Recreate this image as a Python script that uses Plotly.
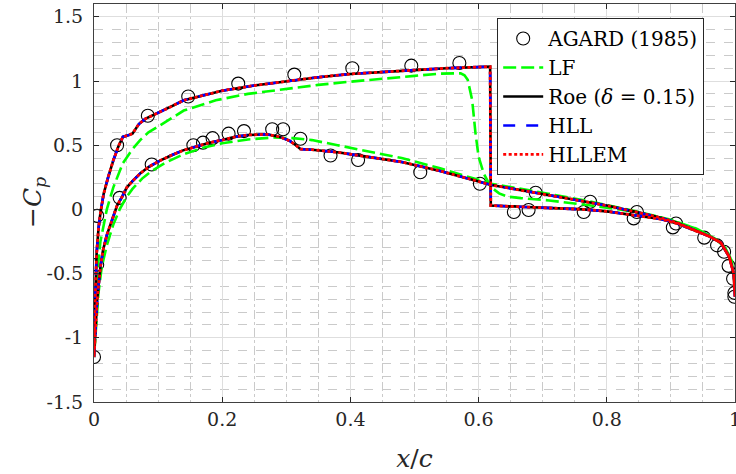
import plotly.graph_objects as go

# ---------------- data (x/c, -Cp) ----------------
exp_x = [0.0, 0.005, 0.036, 0.084, 0.147, 0.225, 0.3125, 0.403, 0.495, 0.57,
         0.655, 0.678, 0.764, 0.842, 0.903, 0.952, 0.972, 0.983, 0.99, 0.997, 0.999,
         0.005, 0.04, 0.09, 0.155, 0.17, 0.185, 0.21, 0.234, 0.278, 0.295, 0.322,
         0.369, 0.412, 0.509, 0.602, 0.689, 0.774, 0.847, 0.908, 0.999]
exp_cp = [-1.15, -0.05, 0.50, 0.73, 0.88, 0.98, 1.05, 1.10, 1.12, 1.14,
          -0.02, -0.005, -0.02, -0.07, -0.14, -0.22, -0.28, -0.33, -0.44, -0.54, -0.65,
          -0.43, 0.09, 0.35, 0.50, 0.52, 0.555, 0.59, 0.61, 0.625, 0.625, 0.55,
          0.42, 0.385, 0.29, 0.20, 0.13, 0.06, -0.02, -0.11, -0.68]

# Roe (delta = 0.15): upper surface (LE -> TE)
roe_up_x = [0.0, 0.001, 0.002, 0.004, 0.007, 0.01, 0.015, 0.022, 0.03, 0.038, 0.045,
            0.052, 0.06, 0.07, 0.08, 0.1, 0.12, 0.14, 0.17, 0.2, 0.25, 0.3, 0.35,
            0.4, 0.45, 0.5, 0.55, 0.6, 0.618, 0.619, 0.62, 0.65, 0.7, 0.764, 0.8,
            0.842, 0.884, 0.91, 0.936, 0.96, 0.978, 0.991, 0.998, 1.0]
roe_up_cp = [-1.15, -0.85, -0.6, -0.35, -0.15, -0.03, 0.12, 0.25, 0.38, 0.49, 0.565,
             0.575, 0.59, 0.665, 0.705, 0.75, 0.80, 0.85, 0.89, 0.925, 0.965, 1.0, 1.03,
             1.055, 1.07, 1.085, 1.10, 1.11, 1.112, 0.03, 0.028, 0.022, 0.015, 0.0, -0.015,
             -0.045, -0.075, -0.11, -0.16, -0.21, -0.26, -0.37, -0.5, -0.68]
# Roe: lower surface (LE -> TE)
roe_lo_x = [0.0, 0.002, 0.005, 0.01, 0.014, 0.02, 0.025, 0.03, 0.036, 0.044, 0.051,
            0.06, 0.072, 0.085, 0.103, 0.12, 0.139, 0.16, 0.18, 0.2, 0.22, 0.24, 0.27,
            0.29, 0.305, 0.315, 0.322, 0.34, 0.38, 0.42, 0.48, 0.54, 0.6, 0.62, 0.7,
            0.77, 0.8, 0.85, 0.884, 0.91, 0.936, 0.96, 0.978, 0.991, 0.998, 1.0]
roe_lo_cp = [-1.15, -0.95, -0.7, -0.45, -0.32, -0.2, -0.13, -0.06, 0.03, 0.1, 0.17,
             0.22, 0.28, 0.33, 0.38, 0.42, 0.46, 0.49, 0.52, 0.54, 0.565, 0.58, 0.585,
             0.565, 0.535, 0.5, 0.47, 0.465, 0.445, 0.415, 0.37, 0.30, 0.215, 0.19, 0.12,
             0.055, 0.03, -0.025, -0.065, -0.105, -0.16, -0.21, -0.26, -0.37, -0.5, -0.68]

# HLL and HLLEM practically coincide with Roe
hll_up_x, hll_up_cp, hll_lo_x, hll_lo_cp = roe_up_x, roe_up_cp, roe_lo_x, roe_lo_cp
hllem_up_x, hllem_up_cp, hllem_lo_x, hllem_lo_cp = roe_up_x, roe_up_cp, roe_lo_x, roe_lo_cp

# LF: upper surface
lf_up_x = [0.0, 0.002, 0.005, 0.01, 0.02, 0.03, 0.045, 0.06, 0.072, 0.085, 0.1, 0.14,
           0.19, 0.24, 0.3, 0.35, 0.4, 0.45, 0.5, 0.54, 0.572, 0.578, 0.583, 0.59,
           0.595, 0.6, 0.608, 0.619, 0.632, 0.645, 0.666, 0.71, 0.76, 0.82, 0.86, 0.9,
           0.94, 0.97, 0.985, 0.995, 1.0]
lf_up_cp = [-1.15, -0.8, -0.5, -0.25, 0.0, 0.17, 0.36, 0.47, 0.54, 0.6, 0.645, 0.77,
            0.85, 0.90, 0.94, 0.97, 0.995, 1.02, 1.04, 1.058, 1.06, 1.045, 1.01, 0.85,
            0.6, 0.41, 0.28, 0.175, 0.125, 0.1, 0.088, 0.07, 0.04, 0.0, -0.035, -0.085,
            -0.15, -0.23, -0.3, -0.4, -0.6]
# LF: lower surface
lf_lo_x = [0.0, 0.003, 0.007, 0.012, 0.02, 0.03, 0.04, 0.05, 0.06, 0.075, 0.09, 0.11,
           0.14, 0.17, 0.2, 0.24, 0.28, 0.31, 0.34, 0.38, 0.42, 0.48, 0.54, 0.6, 0.62,
           0.7, 0.77, 0.85, 0.9, 0.94, 0.97, 0.985, 0.995, 1.0]
lf_lo_cp = [-1.15, -0.9, -0.65, -0.45, -0.28, -0.12, 0.0, 0.09, 0.16, 0.24, 0.3, 0.36,
            0.43, 0.48, 0.515, 0.545, 0.56, 0.555, 0.54, 0.5, 0.46, 0.4, 0.32, 0.23, 0.2,
            0.13, 0.065, -0.02, -0.08, -0.15, -0.23, -0.3, -0.4, -0.6]

x_ticks = [0, 0.2, 0.4, 0.6, 0.8, 1]
x_tick_labels = ["0", "0.2", "0.4", "0.6", "0.8", "1"]
y_ticks = [-1.5, -1, -0.5, 0, 0.5, 1, 1.5]
y_tick_labels = ["-1.5", "-1", "-0.5", "0", "0.5", "1", "1.5"]


def loop(ux, uy, lx, ly):
    # TE -> upper -> LE -> lower -> TE
    return list(reversed(ux)) + list(lx), list(reversed(uy)) + list(ly)


FONT = "DejaVu Serif"
fig = go.Figure()

fig.add_trace(go.Scatter(x=exp_x, y=exp_cp, mode="markers", name="AGARD (1985)",
                         marker=dict(symbol="circle-open", size=13,
                                     color="black", line=dict(width=1.1, color="black"))))

x, y = loop(lf_up_x, lf_up_cp, lf_lo_x, lf_lo_cp)
fig.add_trace(go.Scatter(x=x, y=y, mode="lines", name="LF",
                         line=dict(color="#00ff00", width=2.6, dash="13px,5px")))
x, y = loop(roe_up_x, roe_up_cp, roe_lo_x, roe_lo_cp)
fig.add_trace(go.Scatter(x=x, y=y, mode="lines", name="Roe (<i>δ</i> = 0.15)",
                         line=dict(color="black", width=2.6)))
x, y = loop(hll_up_x, hll_up_cp, hll_lo_x, hll_lo_cp)
fig.add_trace(go.Scatter(x=x, y=y, mode="lines", name="HLL",
                         line=dict(color="#0000ff", width=2.6, dash="12px,11px")))
x, y = loop(hllem_up_x, hllem_up_cp, hllem_lo_x, hllem_lo_cp)
fig.add_trace(go.Scatter(x=x, y=y, mode="lines", name="HLLEM",
                         line=dict(color="#ff0000", width=2.8, dash="3px,2.5px")))

axis_common = dict(
    showline=True, linecolor="#404040", linewidth=1, mirror="ticks",
    ticks="inside", ticklen=5, tickcolor="#262626",
    showgrid=True, gridcolor="#dedede", gridwidth=1,
    zeroline=False, ticklabeloverflow="allow",
    tickfont=dict(family=FONT, size=19, color="#262626"),
)

fig.update_xaxes(range=[0, 1], tickvals=x_ticks, ticktext=x_tick_labels,
                 minor=dict(dtick=0.05, showgrid=True, gridcolor="#cacaca",
                            griddash="dashdot", gridwidth=1),
                 title=dict(text="<i>x</i>/<i>c</i>", font=dict(family=FONT, size=25, color="#262626"),
                            standoff=20),
                 **axis_common)
fig.update_yaxes(range=[-1.5, 1.6], tickvals=y_ticks, ticktext=y_tick_labels,
                 minor=dict(dtick=0.1, showgrid=True, gridcolor="#cacaca",
                            griddash="dash", gridwidth=1),
                 ticklabelstandoff=6,
                 **axis_common)

fig.add_annotation(text="−<i>C<sub>p</sub></i>", xref="paper", yref="paper",
                   x=-0.0936, y=0.5, xanchor="center", yanchor="middle",
                   textangle=-90, showarrow=False,
                   font=dict(family=FONT, size=25, color="#262626"))

fig.update_layout(
    width=736, height=474,
    margin=dict(l=94, r=1, t=4, b=72, autoexpand=False),
    paper_bgcolor="white", plot_bgcolor="white",
    font=dict(family=FONT, color="black"),
    legend=dict(x=0.629, y=0.965, xanchor="left", yanchor="top",
                bgcolor="white", bordercolor="#262626", borderwidth=1,
                font=dict(family=FONT, size=20, color="black"),
                itemwidth=40, tracegroupgap=0),
    showlegend=True,
)

fig.write_html("out.html", config={"displayModeBar": False},
               post_script="document.body.style.margin='0';document.body.style.padding='0';")
